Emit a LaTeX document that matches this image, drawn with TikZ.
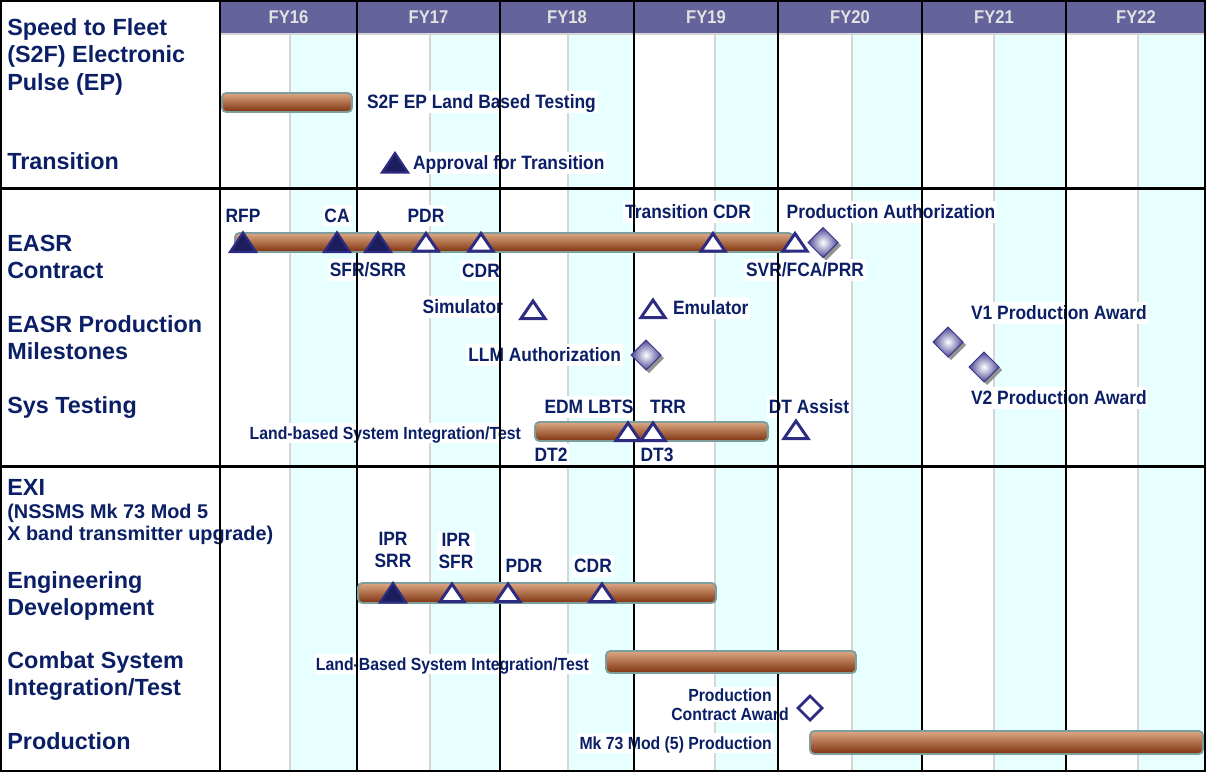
\documentclass[tikz,border=0pt]{standalone}
\usepackage{fontspec}
\setmainfont{Liberation Sans}
\newfontfamily\narrowfont[FakeStretch=0.9]{Liberation Sans}
\usetikzlibrary{positioning}
\definecolor{navy}{HTML}{0B1F66}
\definecolor{tribord}{HTML}{2E2B82}
\definecolor{trifill}{HTML}{1B1D5C}
\definecolor{hdrfill}{HTML}{64639B}
\definecolor{hdrtext}{HTML}{E2E2E2}
\definecolor{halfcol}{HTML}{E8FFFF}
\definecolor{halfgrey}{HTML}{D6D6D6}
\definecolor{coppertop}{HTML}{DDA884}
\definecolor{coppermid}{HTML}{BC7247}
\definecolor{copperbot}{HTML}{7E320E}
\definecolor{barline}{HTML}{7E9E9E}
\definecolor{gemout}{HTML}{4A4596}
\definecolor{gemline}{HTML}{3C3884}
\tikzset{
  hdr/.style={font=\narrowfont\bfseries\fontsize{10.5}{12}\selectfont, text=hdrtext, inner sep=0pt},
  rowhead/.style={font=\bfseries\fontsize{13.3}{15.4}\selectfont, text=navy, align=left, anchor=north west, inner sep=0pt},
  rowsub/.style={rowhead, font=\bfseries\fontsize{11.3}{12.5}\selectfont},
  txt/.style={text=navy, inner sep=1pt, fill=white},
  lbl/.style={txt, font=\narrowfont\bfseries\fontsize{11}{12.5}\selectfont, text height=9pt, text depth=1.1pt},
  lblsmall/.style={txt, font=\narrowfont\bfseries\fontsize{10}{10.8}\selectfont, text height=8.2pt, text depth=1.05pt},
  stack/.style={txt, font=\narrowfont\bfseries\fontsize{11}{12.5}\selectfont, align=center},
  stacksmall/.style={txt, font=\narrowfont\bfseries\fontsize{10}{10.8}\selectfont, align=center},
  halfrule/.style={draw=halfgrey, line width=1.1pt},
  yearrule/.style={draw=black, line width=0.9pt},
  sectionrule/.style={draw=black, line width=1.7pt},
  ganttbar/.style={draw=barline, line width=1.1pt, rounded corners=2.5pt, top color=coppertop, middle color=coppermid, bottom color=copperbot},
  donetri/.pic={\path[draw=tribord, fill=trifill, line width=1.3pt] (-13,9.5) -- (0,-10) -- (13,9.5) -- cycle;},
  opentri/.pic={\path[draw=tribord, fill=white, line width=1.7pt] (-12,8.5) -- (0,-9) -- (12,8.5) -- cycle;},
  awardgem/.pic={\fill[gray!85] (3,-12) -- (18,3) -- (3,18) -- (-12,3) -- cycle;
    \path[draw=gemline, line width=0.6pt, inner color=white, outer color=gemout] (0,-15) -- (15,0) -- (0,15) -- (-15,0) -- cycle;},
  opengem/.pic={\path[draw=tribord, fill=white, line width=1.6pt] (0,-12) -- (12,0) -- (0,12) -- (-12,0) -- cycle;}
}
\begin{document}
\begin{tikzpicture}[x=0.02cm, y=-0.02cm]
\useasboundingbox (0,0) rectangle (1206,772);

% year columns: shaded second half and header cell
\foreach \yr/\xa/\xm/\xb in {16/220/290/357,17/357/430/500,18/500/568/634,19/634/715/778,20/778/852/922,21/922/994/1066,22/1066/1138/1206}{
  \fill[halfcol] (\xm,33) rectangle (\xb,772);
  \draw[halfrule] (\xm,33) -- (\xm,772);
  \fill[hdrfill] (\xa,1) rectangle (\xb,33);
  \node[hdr] (fy\yr) at ({(\xa+\xb)/2},17) {FY\yr};
}
\draw[halfrule] (220,34) -- (1206,34);

% row headings
\node[rowhead] (s2f) at (7,18.6) {Speed to Fleet\\(S2F) Electronic\\Pulse (EP)};
\node[rowhead] (trans) at (7,152.6) {Transition};
\node[rowhead] (easr) at (7,234.6) {EASR\\Contract};
\node[rowhead] (prodms) at (7,315.6) {EASR Production\\Milestones};
\node[rowhead] (systest) at (7,396.6) {Sys Testing};
\node[rowhead] (exi) at (7,478.6) {EXI};
\node[rowsub] (nssms) at (7,503.9) {(NSSMS Mk 73 Mod 5\\X band transmitter upgrade)};
\node[rowhead] (engdev) at (7,571.6) {Engineering\\Development};
\node[rowhead] (csit) at (7,651.6) {Combat System\\Integration/Test};
\node[rowhead] (prod) at (7,732.6) {Production};

% milestone dates
\coordinate (approval) at (395,163);
\coordinate (rfp) at (243,242.5);
\coordinate (ca) at (337,242.5);
\coordinate (sfr) at (378,242.5);
\coordinate (pdr) at (426,242.5);
\coordinate (cdr) at (481,242.5);
\coordinate (tcdr) at (713,242.5);
\coordinate (svr) at (795,242.5);
\coordinate (prodauth) at (823,242.5);
\coordinate (simul) at (533,310);
\coordinate (emul) at (653,309);
\coordinate (llm) at (646,355);
\coordinate (vone) at (948,342);
\coordinate (vtwo) at (984,367);
\coordinate (lbts) at (628,432);
\coordinate (trr) at (653,432);
\coordinate (dtassist) at (796,430);
\coordinate (iprsrr) at (393,593);
\coordinate (iprsfr) at (452,593);
\coordinate (edpdr) at (508,593);
\coordinate (edcdr) at (602,593);
\coordinate (pca) at (810,708);

% labels
\node[lbl, anchor=west] (s2flbl) at (365,102) {S2F EP Land Based Testing};
\node[lbl, right=0.32cm of approval] (approvallbl) {Approval for Transition};
\node[lbl, above=0.32cm of rfp] (rfplbl) {RFP};
\node[lbl, above=0.32cm of ca] (calbl) {CA};
\node[lbl, above=0.32cm of pdr] (pdrlbl) {PDR};
\node[lbl] (sfrlbl) at (368,270) {SFR/SRR};
\node[lbl, below=0.34cm of cdr] (cdrlbl) {CDR};
\node[lbl] (tcdrlbl) at (688,212) {Transition CDR};
\node[lbl] (svrlbl) at (805,270) {SVR/FCA/PRR};
\node[lbl] (prodauthlbl) at (891,212) {Production Authorization};
\node[lbl, anchor=east] (simullbl) at (505,307) {Simulator};
\node[lbl, anchor=west] (emullbl) at (671,308) {Emulator};
\node[lbl, anchor=east] (llmlbl) at (623,355) {LLM Authorization};
\node[lbl, anchor=west] (vonelbl) at (969,313) {V1 Production Award};
\node[lbl, anchor=west] (vtwolbl) at (969,398) {V2 Production Award};
\node[lblsmall, anchor=east] (lbsitlbl) at (523,433) {Land-based System Integration/Test};
\node[lbl] (lbtslbl) at (589,407) {EDM LBTS};
\node[lbl] (trrlbl) at (668,407) {TRR};
\node[lbl] (dtassistlbl) at (809,407) {DT Assist};
\node[lbl] (dttwolbl) at (551,455) {DT2};
\node[lbl] (dtthreelbl) at (657,455) {DT3};
\node[stack] (iprsrrlbl) at (393,550) {IPR\\SRR};
\node[stack] (iprsfrlbl) at (456,551) {IPR\\SFR};
\node[lbl] (edpdrlbl) at (524,566) {PDR};
\node[lbl] (edcdrlbl) at (593,566) {CDR};
\node[lblsmall, anchor=east] (csitlbl) at (591,664) {Land-Based System Integration/Test};
\node[stacksmall] (pcalbl) at (730,704.5) {Production\\Contract Award};
\node[lblsmall, anchor=east] (mklbl) at (774,743) {Mk 73 Mod (5) Production};

% year rules and section rules
\foreach \x in {220,357,500,634,778,922,1066}
  \draw[yearrule] (\x,0) -- (\x,772);
\draw[sectionrule] (0,188.5) -- (1206,188.5);
\draw[sectionrule] (0,466.5) -- (1206,466.5);
\draw[yearrule] (0.8,0.8) rectangle (1205.2,771.2);

% bars
\path[ganttbar] (222,93) rectangle (352,112);
\path[ganttbar] (235,233) rectangle (793,252);
\path[ganttbar] (535,422) rectangle (768,441);
\path[ganttbar] (358,583) rectangle (716,603);
\path[ganttbar] (606,651) rectangle (856,673);
\path[ganttbar] (810,731) rectangle (1203,754);

% markers
\pic at (approval) {donetri};
\pic at (rfp) {donetri};
\pic at (ca) {donetri};
\pic at (sfr) {donetri};
\pic at (pdr) {opentri};
\pic at (cdr) {opentri};
\pic at (tcdr) {opentri};
\pic at (svr) {opentri};
\pic at (prodauth) {awardgem};
\pic at (simul) {opentri};
\pic at (emul) {opentri};
\pic at (llm) {awardgem};
\pic at (vone) {awardgem};
\pic at (vtwo) {awardgem};
\pic at (lbts) {opentri};
\pic at (trr) {opentri};
\pic at (dtassist) {opentri};
\pic at (iprsrr) {donetri};
\pic at (iprsfr) {opentri};
\pic at (edpdr) {opentri};
\pic at (edcdr) {opentri};
\pic at (pca) {opengem};
\end{tikzpicture}
\end{document}
